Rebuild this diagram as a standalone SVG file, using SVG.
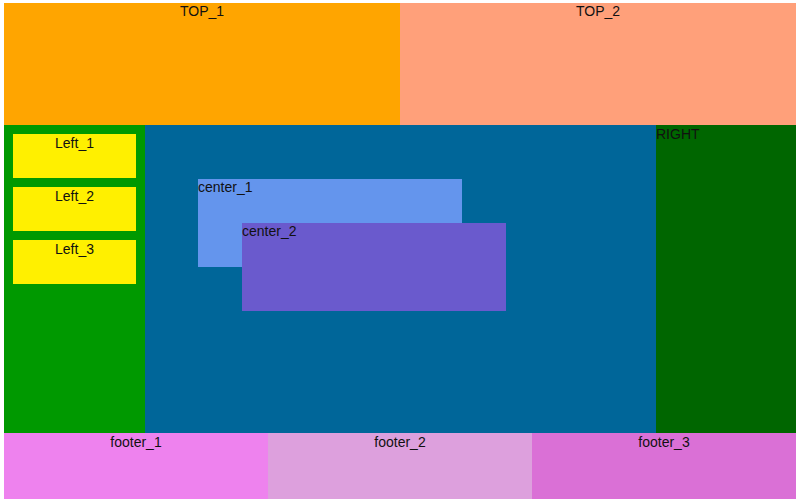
<svg xmlns="http://www.w3.org/2000/svg" width="800" height="502" viewBox="0 0 800 502">
<style>
text{font-family:"Liberation Sans",Arial,sans-serif;font-size:14px;fill:#111}
.c{text-anchor:middle}
</style>
<rect width="800" height="502" fill="#fff"/>
<g id="top_1"><rect x="4" y="3" width="396" height="122" fill="#FFA500"/><text class="c" x="202" y="16">TOP_1</text></g>
<g id="top_2"><rect x="400" y="3" width="396" height="122" fill="#FFA07A"/><text class="c" x="598" y="16">TOP_2</text></g>
<g id="left"><rect x="4" y="125" width="141" height="308" fill="#009900"/></g>
<g id="center"><rect x="145" y="125" width="511" height="308" fill="#006699"/></g>
<g id="right"><rect x="656" y="125" width="140" height="308" fill="#006600"/><text x="656" y="139">RIGHT</text></g>
<g id="left_1"><rect x="13" y="134" width="123" height="44" fill="#FFF000"/><text class="c" x="74.5" y="148">Left_1</text></g>
<g id="left_2"><rect x="13" y="187" width="123" height="44" fill="#FFF000"/><text class="c" x="74.5" y="201">Left_2</text></g>
<g id="left_3"><rect x="13" y="240" width="123" height="44" fill="#FFF000"/><text class="c" x="74.5" y="254">Left_3</text></g>
<g id="center_1"><rect x="198" y="179" width="264" height="88" fill="#6495ED"/><text x="198" y="192">center_1</text></g>
<g id="center_2"><rect x="242" y="223" width="264" height="88" fill="#6A5ACD"/><text x="242" y="236">center_2</text></g>
<g id="footer_1"><rect x="4" y="433" width="264" height="66" fill="#EE82EE"/><text class="c" x="136" y="447">footer_1</text></g>
<g id="footer_2"><rect x="268" y="433" width="264" height="66" fill="#DDA0DD"/><text class="c" x="400" y="447">footer_2</text></g>
<g id="footer_3"><rect x="532" y="433" width="264" height="66" fill="#DA70D6"/><text class="c" x="664" y="447">footer_3</text></g>
<g id="connectors"></g>
</svg>
